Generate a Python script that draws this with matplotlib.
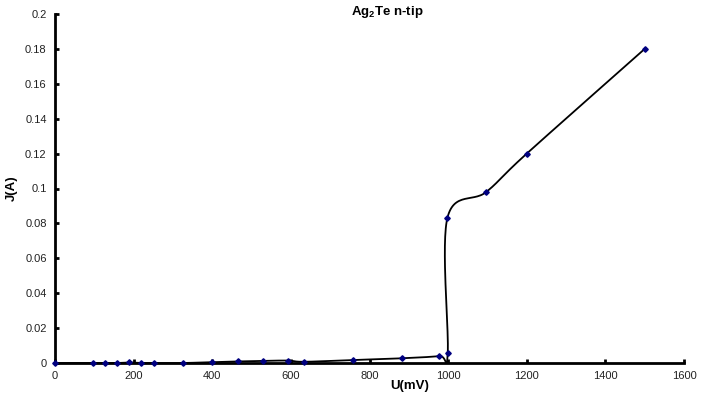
import numpy as np
import matplotlib.pyplot as plt

plt.rcParams['font.family'] = ['Liberation Sans', 'DejaVu Sans']
plt.rcParams['mathtext.fontset'] = 'custom'
plt.rcParams['mathtext.bf'] = 'Liberation Sans:bold'
plt.rcParams['mathtext.rm'] = 'Liberation Sans'

# Data
u_mv = [0, 97, 127, 158, 189, 220, 252, 326, 399, 466, 530, 593, 633, 757, 882, 978, 999, 998, 1097, 1200, 1500]
j_a = [0.0, 0.0, 0.0, 0.0, 0.0003, 0.0, 0.0, 0.0, 0.0005, 0.0009, 0.0012, 0.0014, 0.0007,
       0.0017, 0.0027, 0.004, 0.006, 0.083, 0.098, 0.120, 0.180]

xticks = [0, 200, 400, 600, 800, 1000, 1200, 1400, 1600]
yticks = [0, 0.02, 0.04, 0.06, 0.08, 0.1, 0.12, 0.14, 0.16, 0.18, 0.2]
ytick_labels = ["0", "0.02", "0.04", "0.06", "0.08", "0.1", "0.12", "0.14", "0.16", "0.18", "0.2"]


def smooth_line(x, y, sx, sy, n=30):
    # Excel-style smoothed line: Bezier through the points, done in pixel-like space
    px = np.asarray(x, float) / sx
    py = np.asarray(y, float) / sy
    P = np.column_stack([px, py])
    P = np.vstack([P[0], P, P[-1]])
    out = []
    for i in range(1, len(P) - 2):
        p0, p1, p2, p3 = P[i - 1], P[i], P[i + 1], P[i + 2]
        t = np.linspace(0, 1, n)[:, None]
        c1 = p1 + (p2 - p0) / 6
        c2 = p2 - (p3 - p1) / 6
        b = ((1 - t) ** 3) * p1 + 3 * ((1 - t) ** 2) * t * c1 + 3 * (1 - t) * t ** 2 * c2 + t ** 3 * p2
        out.append(b)
    out = np.vstack(out)
    return out[:, 0] * sx, out[:, 1] * sy


fig = plt.figure(figsize=(7.01, 3.99), dpi=100)
ax = fig.add_axes([55 / 701, 1 - 363 / 399, 629 / 701, 349 / 399])

lx, ly = smooth_line(u_mv, j_a, 1600 / 629, 0.2 / 349)
ax.plot(lx, ly, color='black', lw=1.3, zorder=2)
ax.plot(u_mv, j_a, linestyle='none', marker='D', markersize=2.8, color='#000080', zorder=3, clip_on=False)

ax.set_xlim(0, 1600)
ax.set_ylim(0, 0.2)
ax.set_xticks(xticks)
ax.set_yticks(yticks)
ax.set_yticklabels(ytick_labels)

for s in ['top', 'right']:
    ax.spines[s].set_visible(False)
for s in ['left', 'bottom']:
    ax.spines[s].set_linewidth(2)
ax.tick_params(direction='in', length=3, width=2, labelsize=8, colors='black', pad=6)
for lab in ax.get_xticklabels() + ax.get_yticklabels():
    lab.set_color('#222222')

fig.text(12 / 701, 1 - 188 / 399, 'J(A)', fontsize=9.5, fontweight='bold', rotation=90, ha='center', va='center')
fig.text(410 / 701, 1 - 386 / 399, 'U(mV)', fontsize=9.5, fontweight='bold', ha='center', va='center')
fig.text(387 / 701, 1 - 12 / 399, r'$\mathbf{Ag_2Te}$ n-tip', fontsize=9.5, fontweight='bold', ha='center', va='center')

fig.savefig('out.png', dpi=100)
